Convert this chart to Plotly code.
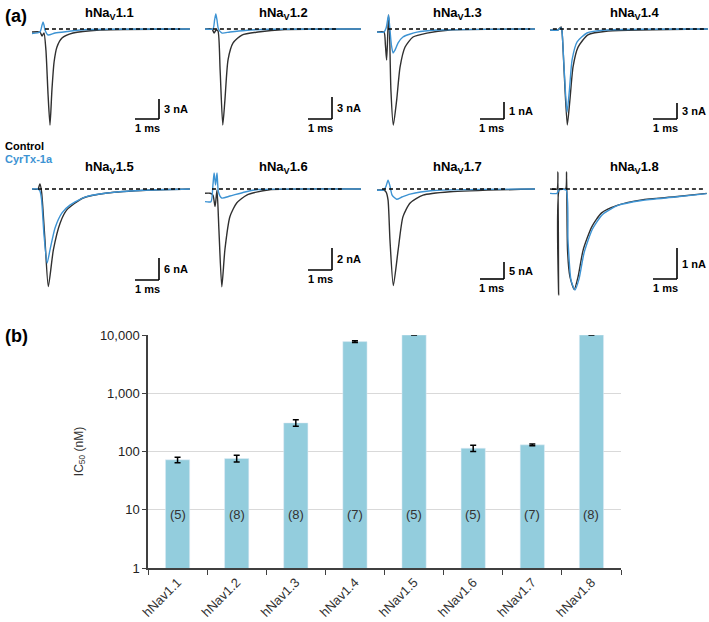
import plotly.graph_objects as go

W, H = 709, 622

# ---- panel (a): current traces, time in ms, current in nA ----
panels = ["1.1", "1.2", "1.3", "1.4", "1.5", "1.6", "1.7", "1.8"]
scale_nA = [3, 3, 1, 3, 6, 2, 5, 1]

ctrl_t = [
    [0, 0.33, 0.42, 0.5, 0.58, 0.67, 0.75, 0.83, 0.92, 1.04, 1.25, 1.71, 2.83, 6.58],
    [0, 0.29, 0.38, 0.46, 0.54, 0.63, 0.74, 0.83, 0.96, 1.17, 1.54, 2.21, 3.33, 6.5],
    [0, 0.29, 0.35, 0.4, 0.44, 0.48, 0.52, 0.58, 0.68, 0.82, 0.96, 1.17, 1.5, 2.08, 3.04, 6.58],
    [0, 0.33, 0.46, 0.5, 0.58, 0.72, 0.83, 0.96, 1.17, 1.58, 2.42, 6.58],
    [0, 0.25, 0.33, 0.4, 0.54, 0.68, 0.89, 1.17, 1.45, 2.13, 3.13, 4.92, 6.58],
    [0, 0.21, 0.33, 0.42, 0.5, 0.58, 0.7, 0.83, 1.04, 1.32, 1.74, 2.63, 6.5],
    [0, 0.29, 0.38, 0.46, 0.54, 0.68, 0.88, 1.08, 1.38, 1.92, 3.04, 6.58],
    [0, 0.29, 0.33, 0.36, 0.4, 0.65, 0.69, 0.73, 0.83, 1.01, 1.17, 1.38, 1.74, 2.15, 2.83, 3.82, 5.21, 6.53],
]
ctrl_i = [
    [-0.45, -0.45, -1.05, -0.6, -3.15, -9.9, -14.4, -9.15, -4.95, -2.7, -1.35, -0.6, -0.15, 0],
    [0, 0, -0.55, -0.14, -0.27, -5.6, -13.1, -9.7, -4.2, -1.9, -0.82, -0.41, -0.07, 0],
    [-0.18, -0.18, -0.94, -1.82, -0.65, 0.82, -0.06, -3.6, -5.65, -4.18, -2.24, -1.06, -0.47, -0.24, -0.06, 0],
    [-0.19, -0.19, 0.38, -0.38, -7.1, -18.0, -13.3, -7.1, -3.4, -1.1, -0.38, 0],
    [0, 0, 1.36, -0.82, -13.9, -26.6, -16.6, -9.3, -5.7, -2.45, -1.09, -0.27, 0],
    [-0.39, -0.39, -0.55, -1.6, -0.09, -3.7, -8.9, -5.5, -2.5, -1.27, -0.55, -0.09, 0],
    [-0.3, -0.3, -0.9, -3.2, -15.0, -28.4, -18.0, -8.2, -4.1, -1.8, -0.8, 0],
    [0, 0, 0.55, -3.42, 0, 0, 0.55, -1.97, -2.83, -3.24, -2.83, -1.97, -1.22, -0.77, -0.52, -0.35, -0.25, -0.14],
]
tox_t = [
    [0, 0.33, 0.42, 0.46, 0.5, 0.54, 0.67, 0.96, 1.46, 2.29, 6.58],
    [0, 0.33, 0.4, 0.45, 0.5, 0.56, 0.71, 1.04, 1.67, 2.71, 6.5],
    [0, 0.29, 0.38, 0.48, 0.54, 0.6, 0.67, 0.75, 0.88, 1.08, 1.67, 2.5, 6.58],
    [0, 0.33, 0.46, 0.5, 0.58, 0.71, 0.81, 0.92, 1.13, 1.54, 2.29, 6.58],
    [0, 0.25, 0.33, 0.4, 0.5, 0.63, 0.75, 0.96, 1.25, 1.58, 2.21, 3.13, 4.92, 6.58],
    [0, 0.25, 0.33, 0.38, 0.44, 0.5, 0.56, 0.7, 1.04, 1.67, 2.21, 6.5],
    [0, 0.29, 0.38, 0.46, 0.54, 0.63, 0.82, 1.04, 1.38, 2.33, 6.58],
    [0, 0.29, 0.375, 0.67, 0.75, 0.875, 1.04, 1.21, 1.42, 1.77, 2.19, 2.83, 3.82, 5.21, 6.53],
]
tox_i = [
    [-0.68, -0.45, 0.6, 1.05, 0.6, -0.15, -0.9, -0.6, -0.38, -0.08, 0],
    [0, 0, 1.23, 2.05, 1.23, 0, -0.55, -0.41, -0.2, -0.04, 0],
    [-0.18, -0.18, 0.06, 0.82, -0.06, -0.94, -1.41, -1.24, -0.82, -0.47, -0.18, -0.06, 0],
    [-0.19, -0.19, 0.19, -0.38, -6.75, -15.6, -11.4, -5.8, -2.4, -0.75, -0.19, 0],
    [0, 0, -0.55, -3.0, -12.5, -20.2, -16.6, -10.6, -6.5, -4.4, -2.2, -1.09, -0.27, 0],
    [-1.15, -1.15, 0.36, 1.45, 0.36, 1.45, -0.27, -0.82, -0.64, -0.27, -0.05, 0],
    [-0.3, -0.3, 0.9, 2.6, 0.9, -1.8, -3.0, -2.35, -1.5, -0.45, 0],
    [-0.14, -0.14, -0.03, -0.03, -1.65, -2.94, -3.26, -2.9, -2.06, -1.29, -0.82, -0.53, -0.37, -0.26, -0.15],
]

# ---- panel (b): IC50 bars ----
channels = ["hNav1.1", "hNav1.2", "hNav1.3", "hNav1.4", "hNav1.5", "hNav1.6", "hNav1.7", "hNav1.8"]
ic50 = [72, 76, 310, 7700, 10000, 114, 130, 10000]
ic50_err = [8, 10, 40, 300, 0, 14, 5, 0]
n_cells = [5, 8, 8, 7, 5, 5, 7, 8]

BLACK = "#303030"
BLUE = "#3d93d3"
FONT = "Liberation Sans, Arial, sans-serif"

# layout helpers (pixels)
col_x0 = [32, 205, 377, 550]
row_top = [12, 165]
row_bot = [135, 300]
row_base = [29, 189]
px_per_ms = 24
t_max = 6.6
px_per_nA = [6.67, 7.33, 17, 5.33, 3.67, 11, 3.4, 31]
bar_drop = [90, 90, 90, 90, 91, 81, 90, 90]
dash_t = [(0.54, 6.17), (0.33, 5.54), (0.46, 6.38), (0.12, 6.46),
          (0.25, 6.17), (0.29, 5.7), (0.21, 5.4), (0.08, 6.46)]

fig = go.Figure()
layout = {}
shapes = []
annotations = []

for p in range(8):
    r, c = divmod(p, 4)
    ax = p + 2
    xa, ya = f"x{ax}", f"y{ax}"
    k = px_per_nA[p]
    x0 = col_x0[c]
    x1 = x0 + t_max * px_per_ms
    ymax = (row_base[r] - row_top[r]) / k
    ymin = -(row_bot[r] - row_base[r]) / k
    layout[f"xaxis{ax}"] = dict(domain=[x0 / W, min(x1 / W, 1)], range=[0, t_max],
                                visible=False, anchor=ya, fixedrange=True)
    layout[f"yaxis{ax}"] = dict(domain=[1 - row_bot[r] / H, 1 - row_top[r] / H],
                                range=[ymin, ymax], visible=False, anchor=xa, fixedrange=True)

    fig.add_trace(go.Scatter(x=ctrl_t[p], y=ctrl_i[p], mode="lines", xaxis=xa, yaxis=ya,
                             line=dict(color=BLACK, width=1.4, shape="spline", smoothing=0.6),
                             showlegend=False, hoverinfo="skip"))
    fig.add_trace(go.Scatter(x=tox_t[p], y=tox_i[p], mode="lines", xaxis=xa, yaxis=ya,
                             line=dict(color=BLUE, width=1.4, shape="spline", smoothing=0.6),
                             showlegend=False, hoverinfo="skip"))

    # zero-current line
    shapes.append(dict(type="line", xref=xa, yref=ya, x0=dash_t[p][0], x1=dash_t[p][1], y0=0, y1=0,
                       line=dict(color="black", width=1.3, dash="4px,3px")))

    # scale bars
    tc = 127 / px_per_ms
    yc = -bar_drop[p] / k
    shapes.append(dict(type="line", xref=xa, yref=ya, x0=tc - 1, x1=tc, y0=yc, y1=yc,
                       line=dict(color="black", width=1.6)))
    shapes.append(dict(type="line", xref=xa, yref=ya, x0=tc, x1=tc, y0=yc, y1=yc + scale_nA[p],
                       line=dict(color="black", width=1.6)))
    annotations.append(dict(xref=xa, yref=ya, x=tc + 0.12, y=yc + scale_nA[p] / 2, xanchor="left",
                            yanchor="middle", showarrow=False, text=f"<b>{scale_nA[p]} nA</b>",
                            font=dict(size=11, color="black", family=FONT)))
    annotations.append(dict(xref=xa, yref=ya, x=tc - 0.5, y=yc, xanchor="center", yanchor="top",
                            yshift=-1, showarrow=False, text="<b>1 ms</b>",
                            font=dict(size=11, color="black", family=FONT)))

    # panel titles
    title_x = [109, 283, 457, 634][c]
    title_y = [13, 167][r]
    annotations.append(dict(xref="paper", yref="paper", x=title_x / W, y=1 - title_y / H,
                            xanchor="center", yanchor="middle", showarrow=False,
                            text=f"<b>hNa<sub>V</sub>{panels[p]}</b>",
                            font=dict(size=13, color="black", family=FONT)))

# ---- bar chart ----
fig.add_trace(go.Bar(x=channels, y=ic50, xaxis="x", yaxis="y", marker_color="#93cddd",
                     error_y=dict(type="data", array=ic50_err, color="black", thickness=1.5, width=3),
                     showlegend=False, hoverinfo="skip", width=0.41))

for ch, n in zip(channels, n_cells):
    annotations.append(dict(xref="x", yref="y", x=ch, y=0.91, showarrow=False, text=f"({n})",
                            font=dict(size=13, color="#333333", family=FONT)))

layout["xaxis"] = dict(domain=[148 / W, 621 / W], anchor="y", showline=True, linecolor="#404040",
                       linewidth=1.5, ticks="outside", tickson="boundaries", ticklen=5,
                       tickcolor="#404040", tickangle=-45, automargin=False,
                       tickfont=dict(size=13, color="#333333", family=FONT), fixedrange=True)
layout["yaxis"] = dict(domain=[1 - 568 / H, 1 - 335 / H], anchor="x", type="log", range=[0, 4],
                       tickvals=[1, 10, 100, 1000, 10000],
                       ticktext=["1", "10", "100", "1,000", "10,000"],
                       showline=True, linecolor="#404040", linewidth=1.5, ticks="outside",
                       ticklen=4, tickcolor="#404040", showgrid=True, gridcolor="#d9d9d9",
                       gridwidth=1.2, tickfont=dict(size=13, color="#222222", family=FONT),
                       title=dict(text="IC<sub>50</sub> (nM)", standoff=14,
                                  font=dict(size=12, color="#333333", family=FONT)),
                       automargin=False, fixedrange=True)

# panel letters and legend text
annotations += [
    dict(xref="paper", yref="paper", x=3 / W, y=1 - 16 / H, xanchor="left", yanchor="middle",
         showarrow=False, text="<b>(a)</b>", font=dict(size=18, color="black", family=FONT)),
    dict(xref="paper", yref="paper", x=3 / W, y=1 - 336 / H, xanchor="left", yanchor="middle",
         showarrow=False, text="<b>(b)</b>", font=dict(size=18, color="black", family=FONT)),
    dict(xref="paper", yref="paper", x=3 / W, y=1 - 146 / H, xanchor="left", yanchor="middle",
         showarrow=False, text="<b>Control</b>", font=dict(size=11, color="black", family=FONT)),
    dict(xref="paper", yref="paper", x=3 / W, y=1 - 159 / H, xanchor="left", yanchor="middle",
         showarrow=False, text="<b>CyrTx-1a</b>", font=dict(size=11, color=BLUE, family=FONT)),
]

fig.update_layout(width=W, height=H, margin=dict(l=0, r=0, t=0, b=0, autoexpand=False),
                  paper_bgcolor="white", plot_bgcolor="white", shapes=shapes,
                  annotations=annotations, bargap=0.59, font=dict(family=FONT), **layout)

# drop the default page margin so the figure sits at the window's corner
fig.write_html("out.html", config={"displayModeBar": False},
               post_script="document.body.style.margin = '0';")
